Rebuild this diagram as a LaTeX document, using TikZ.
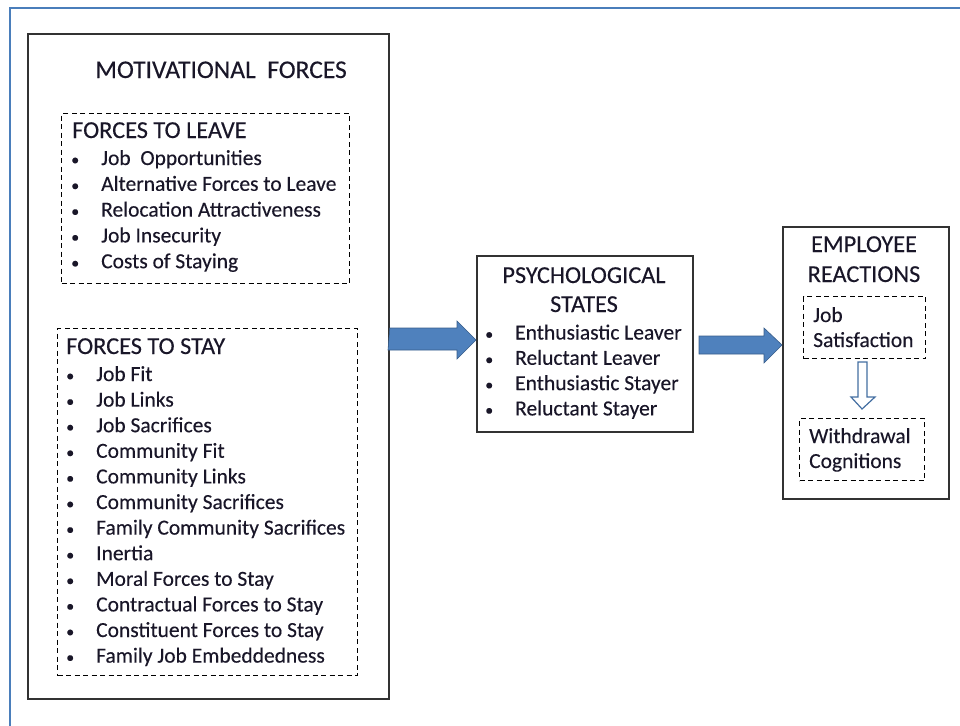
\documentclass[tikz,border=0pt]{standalone}
\usepackage{fontspec}
\setmainfont[FakeBold=0.25]{Carlito}
\definecolor{frameblue}{RGB}{74,126,187}
\definecolor{arrowblue}{RGB}{79,129,189}
\definecolor{arrowedge}{RGB}{56,93,138}
\definecolor{boxgray}{RGB}{50,50,50}
\definecolor{txtcol}{RGB}{25,22,40}
\tikzset{
  box/.style={draw=boxgray, line width=1.8pt, fill=none, inner sep=0pt},
  dbox/.style={draw=black, line width=1.1pt, dash pattern=on 5pt off 3.5pt, inner sep=0pt},
  txt/.style={inner sep=0pt, text=txtcol, font=\fontsize{21.5}{25.7}\selectfont},
  captxt/.style={txt, font=\fontsize{24.3}{28}\selectfont},
  fatarrow/.style={fill=arrowblue, draw=arrowedge, line width=0.6pt, line join=miter},
  hollowarrow/.style={fill=white, draw=arrowblue!85!black, line width=1.2pt, line join=miter}
}
\newcommand{\bul}[1]{\llap{{\fontsize{16}{16}\selectfont\textbullet}\hspace{22pt}}#1}
\begin{document}
\begin{tikzpicture}[x=1pt,y=-1pt]
\useasboundingbox (0,0) rectangle (960,725);
% outer frame
\draw[frameblue, line width=2pt] (10,726) -- (10,8) -- (961,8);
% boxes
\node[box, anchor=north west, minimum width=361, minimum height=665] (mot) at (27,33) {};
\node[dbox, anchor=north west, minimum width=288, minimum height=170] (leave) at (61,113) {};
\node[dbox, anchor=north west, minimum width=300, minimum height=347] (stay) at (57,328) {};
\node[box, anchor=north west, minimum width=216, minimum height=176] (psy) at (476,255) {};
\node[box, anchor=north west, minimum width=166, minimum height=272] (emp) at (782,226) {};
\node[dbox, anchor=north west, minimum width=122, minimum height=62] (sat) at (803,296) {};
\node[dbox, anchor=north west, minimum width=125, minimum height=62] (wd) at (799,418) {};
% titles
\node[txt, anchor=base west, font=\fontsize{25.5}{29}\selectfont] (motT) at (95,78) {MOTIVATIONAL\ \ FORCES};
\node[captxt, anchor=base west] (leaveT) at (72,138) {FORCES TO LEAVE};
\node[captxt, anchor=base west] (stayT) at (66,354) {FORCES TO STAY};
\node[captxt, anchor=base] (psyT1) at (584,283) {PSYCHOLOGICAL};
\node[captxt, anchor=base] (psyT2) at (584,312) {STATES};
\node[captxt, anchor=base] (empT1) at (864,252) {EMPLOYEE};
\node[captxt, anchor=base] (empT2) at (864,282) {REACTIONS};
% lists
\foreach \t [count=\i] in {Job\ \ Opportunities, Alternative Forces to Leave, Relocation Attractiveness, Job Insecurity, Costs of Staying}
  \node[txt, anchor=base west] (lv\i) at (101,{139.2+25.8*\i}) {\bul{\t}};
\foreach \t [count=\i] in {Job Fit, Job Links, Job Sacrifices, Community Fit, Community Links, Community Sacrifices, Family Community Sacrifices, Inertia, Moral Forces to Stay, Contractual Forces to Stay, Constituent Forces to Stay, Family Job Embeddedness}
  \node[txt, anchor=base west] (st\i) at (96,{355.4+25.6*\i}) {\bul{\t}};
\foreach \t [count=\i] in {Enthusiastic Leaver, Reluctant Leaver, Enthusiastic Stayer, Reluctant Stayer}
  \node[txt, anchor=base west] (ps\i) at (515,{314.2+25.3*\i}) {\bul{\t}};
\node[txt, anchor=base west] (sat1) at (813,322) {Job};
\node[txt, anchor=base west] (sat2) at (813,347) {Satisfaction};
\node[txt, anchor=base west] (wd1) at (809,443) {Withdrawal};
\node[txt, anchor=base west] (wd2) at (809,468) {Cognitions};
% arrows
\coordinate (a1s) at (mot.east |- 0,339);
\draw[fatarrow] (a1s) ++(0,-11) -- (457,328) -- (457,321) -- (psy.west |- 0,340) -- (457,359) -- (457,350) -- (388,350) -- cycle;
\draw[fatarrow] (699,336) -- (764,336) -- (764,328) -- (emp.west |- 0,345) -- (764,363) -- (764,354) -- (699,354) -- cycle;
\draw[hollowarrow] (858,362) -- (867,362) -- (867,397) -- (875,397) -- (wd.north |- 0,409) -- (851,397) -- (858,397) -- cycle;
\end{tikzpicture}
\end{document}
